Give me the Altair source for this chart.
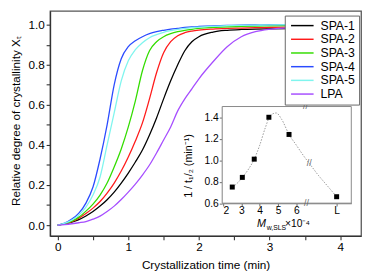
import altair as alt
import pandas as pd

FONT = "Liberation Sans"

# ---------------- main chart data ----------------
t = [0, 0.1, 0.2, 0.3, 0.4, 0.5, 0.6, 0.7, 0.8, 0.9, 1.0, 1.1, 1.2, 1.3, 1.4,
     1.5, 1.6, 1.7, 1.8, 1.9, 2.0, 2.2, 2.4, 2.6, 2.8, 3.0, 3.3]
spa1 = [0, .006, .015, .028, .046, .068, .095, .127, .165, .21, .26, .315, .375, .45, .535,
        .63, .72, .8, .87, .915, .94, .963, .972, .976, .978, .979, .98]
spa2 = [0, .007, .018, .035, .058, .085, .118, .16, .21, .27, .34, .42, .51, .63, .76,
        .86, .915, .945, .96, .968, .973, .978, .981, .983, .985, .986, .988]
spa3 = [0, .008, .02, .04, .07, .105, .15, .21, .29, .38, .49, .62, .77, .87, .915,
        .94, .955, .965, .972, .977, .981, .986, .989, .991, .993, .994, .995]
spa4 = [0, .01, .03, .06, .11, .19, .33, .5, .7, .83, .89, .92, .94, .955, .965,
        .972, .978, .982, .986, .989, .991, .994, .996, .998, .999, 1.0, 1.0]
spa5 = [0, .01, .025, .05, .09, .15, .24, .4, .56, .72, .82, .875, .91, .935, .95,
        .962, .97, .976, .981, .985, .988, .992, .995, .997, .998, .999, 1.0]
lpa = [0, .003, .007, .012, .018, .03, .045, .068, .095, .128, .165, .205, .25, .3, .36,
       .425, .49, .57, .63, .68, .73, .815, .89, .94, .965, .977, .984]

names = ["SPA-1", "SPA-2", "SPA-3", "SPA-4", "SPA-5", "LPA"]
colors = ["#000000", "#ff1a1a", "#33dd00", "#2a4bff", "#7ff5ee", "#a64dff"]
series = [spa1, spa2, spa3, spa4, spa5, lpa]

x_ticks = [0, 0.5, 1, 1.5, 2, 2.5, 3, 3.5, 4]
y_ticks = [0, 0.1, 0.2, 0.3, 0.4, 0.5, 0.6, 0.7, 0.8, 0.9, 1.0]

# ---------------- inset data ----------------
mw = [2.5, 3.05, 3.7, 4.5, 5.6, 8.2]
inv_t = [0.75, 0.84, 1.01, 1.40, 1.24, 0.66]
fit_x = [2.5, 2.8, 3.05, 3.4, 3.7, 4.0, 4.3, 4.6, 4.9, 5.2, 5.6, 6.0, 6.4, 6.8, 7.2, 7.6, 8.2]
fit_y = [0.75, 0.79, 0.84, 0.92, 1.01, 1.14, 1.30, 1.42, 1.44, 1.38, 1.24, 1.14, 1.04, 0.95, 0.86, 0.78, 0.66]
inset_x_ticks = [2, 3, 4, 5, 6, 8.2]
inset_y_ticks = [0.6, 0.8, 1.0, 1.2, 1.4]
break_x = [6.55, 6.5, 6.7]
break_y = [0.6, 1.5, 0.97]

rows = []
for name, vals in zip(names, series):
    for ti, v in zip(t, vals):
        rows.append({"t": ti, "X": v, "series": name})
df = pd.DataFrame(rows)

main = alt.Chart(df).mark_line(strokeWidth=1.3, interpolate="monotone").encode(
    x=alt.X("t:Q",
            scale=alt.Scale(domain=[-0.108, 4.296], nice=False, zero=False),
            axis=alt.Axis(orient="bottom", values=x_ticks,
                          labelExpr="round(datum.value*2) % 2 == 0 ? format(datum.value, 'd') : ''",
                          labelOverlap=False, tickSize=4, labelPadding=2, labelFontSize=12,
                          title="Crystallization time (min)", titleFontSize=12,
                          titleY=29, titleBaseline="middle", titleFontWeight="normal")),
    y=alt.Y("X:Q",
            scale=alt.Scale(domain=[-0.0537, 1.0683], nice=False, zero=False),
            axis=alt.Axis(orient="left", values=y_ticks,
                          labelExpr="round(datum.value*10) % 2 == 0 ? format(datum.value, '.1f') : ''",
                          labelOverlap=False, tickSize=4, labelPadding=2, labelFontSize=12,
                          title="Relative degree of crystallinity Xₜ", titleFontSize=12,
                          titleX=-35, titleY=112, titleAngle=-90, titleBaseline="middle",
                          titleAlign="center", titleFontWeight="normal")),
    color=alt.Color("series:N",
                    scale=alt.Scale(domain=names, range=colors),
                    legend=alt.Legend(orient="none", legendX=240, legendY=4.7, title=None,
                                      symbolType="M-1,0H5", symbolSize=59, symbolStrokeWidth=1.5,
                                      labelOffset=20, labelFontSize=12.5, labelFont=FONT,
                                      labelColor="#000", rowPadding=1, padding=4,
                                      strokeColor="#666", fillColor="#ffffff")),
)

# inset scales / axes
ins_x = alt.Scale(domain=[1.95, 9.0], range=[176, 308], nice=False, zero=False)
ins_y = alt.Scale(domain=[0.6, 1.5], range=[196.5, 97.7], nice=False, zero=False)
ax_x = alt.Axis(orient="bottom", offset=-33.5, values=inset_x_ticks,
                labelExpr="datum.value > 7 ? 'L' : format(datum.value, 'd')",
                labelOverlap=False, tickSize=3, labelPadding=0, labelFontSize=10.5,
                domainColor="#777", tickColor="#777", title=None)
ax_y = alt.Axis(orient="left", offset=-176, values=inset_y_ticks, format=".1f",
                labelOverlap=False, tickSize=3, labelPadding=1, labelFontSize=10.5,
                domainColor="#777", tickColor="#777",
                title="1 / t₁/₂ (min⁻¹)", titleFontSize=11, titleFontWeight="normal",
                titleX=-34, titleY=158, titleAngle=-90, titleBaseline="middle", titleAlign="center")

frame_df = pd.DataFrame({"ix": [1.95], "ix2": [9.0], "iy": [0.6], "iy2": [1.5]})
frame = alt.Chart(frame_df).mark_rect(fill="white", stroke="#888", strokeWidth=1).encode(
    x=alt.X("ix:Q", scale=ins_x, axis=ax_x), x2="ix2:Q",
    y=alt.Y("iy:Q", scale=ins_y, axis=ax_y), y2="iy2:Q")

fit_df = pd.DataFrame({"ix": fit_x, "iy": fit_y})
fit = alt.Chart(fit_df).mark_line(color="#999", strokeWidth=1, strokeDash=[1.5, 1.5],
                                  interpolate="monotone").encode(
    x=alt.X("ix:Q", scale=ins_x, axis=ax_x), y=alt.Y("iy:Q", scale=ins_y, axis=ax_y))

pts_df = pd.DataFrame({"ix": mw, "iy": inv_t})
pts = alt.Chart(pts_df).mark_square(size=26, color="black", opacity=1).encode(
    x=alt.X("ix:Q", scale=ins_x, axis=ax_x), y=alt.Y("iy:Q", scale=ins_y, axis=ax_y))

brk_df = pd.DataFrame({"ix": break_x, "iy": break_y, "txt": ["//", "//", "//"]})
brk = alt.Chart(brk_df).mark_text(fontSize=9, color="#666", font=FONT).encode(
    x=alt.X("ix:Q", scale=ins_x, axis=ax_x), y=alt.Y("iy:Q", scale=ins_y, axis=ax_y),
    text="txt:N")

m_df = pd.DataFrame({"ix": [3.85], "iy": [0.405], "txt": ["M"]})
m_txt = alt.Chart(m_df).mark_text(fontSize=11, fontStyle="italic", align="left", font=FONT,
                                  color="#000").encode(
    x=alt.X("ix:Q", scale=ins_x, axis=ax_x), y=alt.Y("iy:Q", scale=ins_y, axis=ax_y), text="txt:N")
sub_df = pd.DataFrame({"ix": [4.38], "iy": [0.372], "txt": ["w,SLS"]})
sub_txt = alt.Chart(sub_df).mark_text(fontSize=7, align="left", font=FONT, color="#000").encode(
    x=alt.X("ix:Q", scale=ins_x, axis=ax_x), y=alt.Y("iy:Q", scale=ins_y, axis=ax_y), text="txt:N")
mul_df = pd.DataFrame({"ix": [5.38], "iy": [0.405], "txt": ["×10⁻⁴"]})
mul_txt = alt.Chart(mul_df).mark_text(fontSize=10.5, align="left", font=FONT, color="#000").encode(
    x=alt.X("ix:Q", scale=ins_x, axis=ax_x), y=alt.Y("iy:Q", scale=ins_y, axis=ax_y), text="txt:N")

inset = alt.layer(frame, fit, pts, brk, m_txt, sub_txt, mul_txt)

chart = alt.layer(main, inset).resolve_scale(x="independent", y="independent").properties(
    width=318, height=230,
    autosize=alt.AutoSizeParams(type="none"),
    padding={"left": 43, "top": 0, "right": 3, "bottom": 41},
).configure_view(stroke="#555", strokeWidth=1.3).configure_axis(
    grid=False, labelFont=FONT, titleFont=FONT, labelColor="#000", titleColor="#000",
    domainColor="#333", tickColor="#333", domainWidth=1.3, tickWidth=1.1,
)

chart.save("out.html", embed_options={"renderer": "svg", "actions": False})
